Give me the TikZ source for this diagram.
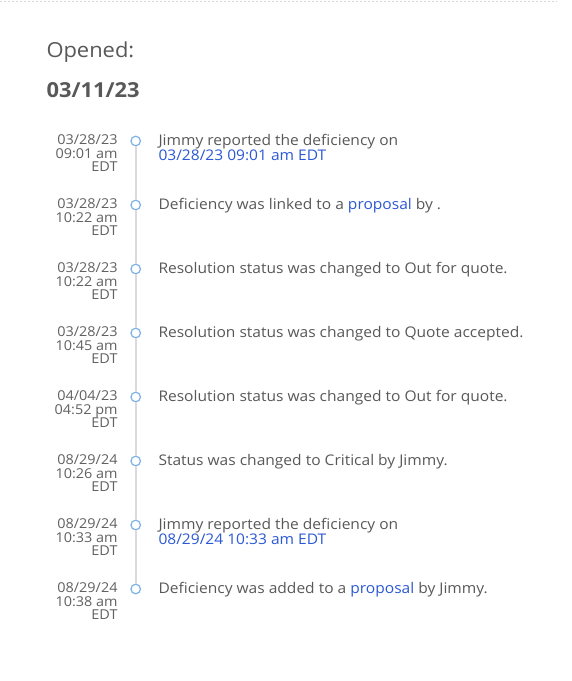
\documentclass[tikz,border=0pt]{standalone}
\usepackage{fontspec}
\setmainfont[FakeStretch=1.06]{Open Sans}
\definecolor{txtgrey}{RGB}{88,88,88}
\definecolor{dategrey}{RGB}{96,96,96}
\definecolor{linkblue}{RGB}{43,88,212}
\definecolor{ringblue}{RGB}{122,178,230}
\definecolor{railgrey}{RGB}{218,218,218}
\definecolor{rulegrey}{RGB}{215,215,215}
\newcommand{\lnk}[1]{\textcolor{linkblue}{#1}}
\tikzset{every picture/.style={line width=0.75pt}}
\tikzset{
  datecol/.style={anchor=base east, inner sep=0pt, align=right, text=dategrey,
    font=\fontsize{10.2pt}{10.2pt}\selectfont},
  evtext/.style={anchor=base west, inner sep=0pt, align=left, text=txtgrey,
    font=\fontsize{11pt}{11.25pt}\selectfont},
  ring/.style={circle, draw=ringblue, fill=white, line width=0.9pt, inner sep=0pt, minimum size=7.2pt}
}
\begin{document}
\begin{tikzpicture}[x=0.75pt,y=0.75pt,yscale=-1,xscale=1]
\useasboundingbox (0,0) rectangle (571,681);

%Dotted top rule
\draw [color=rulegrey, line width=0.75pt, dash pattern={on 1.2pt off 1.8pt}] (0,2) -- (557,2);

% Text Node
\node (opened) [anchor=base west, inner sep=0pt, text=txtgrey, font=\fontsize{15.5pt}{18pt}\selectfont] at (46,57.7) {Opened:};
% Text Node
\node (opendate) [anchor=base west, inner sep=0pt, text=txtgrey, font=\fontsize{15.5pt}{18pt}\selectfont\bfseries] at (46,97.7) {03/11/23};

%Rings
\node (c1) [ring] at (135.7,141) {};
\node (c2) [ring] at (135.7,205) {};
\node (c3) [ring] at (135.7,269) {};
\node (c4) [ring] at (135.7,333) {};
\node (c5) [ring] at (135.7,397) {};
\node (c6) [ring] at (135.7,461) {};
\node (c7) [ring] at (135.7,525) {};
\node (c8) [ring] at (135.7,589) {};

%Rail
\draw [color=railgrey, line width=1.5pt] (c1.south) -- (c2.north) (c2.south) -- (c3.north) (c3.south) -- (c4.north) (c4.south) -- (c5.north) (c5.south) -- (c6.north) (c6.south) -- (c7.north) (c7.south) -- (c8.north);

% Date Nodes (base = last line)
\node (d1) [datecol] at (118,171.7) {03/28/23\\09:01 am\\EDT};
\node (d2) [datecol] at (118,235.7) {03/28/23\\10:22 am\\EDT};
\node (d3) [datecol] at (118,299.7) {03/28/23\\10:22 am\\EDT};
\node (d4) [datecol] at (118,363.7) {03/28/23\\10:45 am\\EDT};
\node (d5) [datecol] at (118,427.7) {04/04/23\\04:52 pm\\EDT};
\node (d6) [datecol] at (118,491.7) {08/29/24\\10:26 am\\EDT};
\node (d7) [datecol] at (118,555.7) {08/29/24\\10:33 am\\EDT};
\node (d8) [datecol] at (118,619.7) {08/29/24\\10:38 am\\EDT};

% Event Nodes
\node (e1) [evtext] at (158,160.7) {Jimmy reported the deficiency on\\\lnk{03/28/23 09:01 am EDT}};
\node (e2) [evtext] at (158,209.7) {Deficiency was linked to a \lnk{proposal} by .};
\node (e3) [evtext] at (158,273.7) {Resolution status was changed to Out for quote.};
\node (e4) [evtext] at (158,337.7) {Resolution status was changed to Quote accepted.};
\node (e5) [evtext] at (158,401.7) {Resolution status was changed to Out for quote.};
\node (e6) [evtext] at (158,465.7) {Status was changed to Critical by Jimmy.};
\node (e7) [evtext] at (158,544.7) {Jimmy reported the deficiency on\\\lnk{08/29/24 10:33 am EDT}};
\node (e8) [evtext] at (158,593.7) {Deficiency was added to a \lnk{proposal} by Jimmy.};

\end{tikzpicture}
\end{document}
